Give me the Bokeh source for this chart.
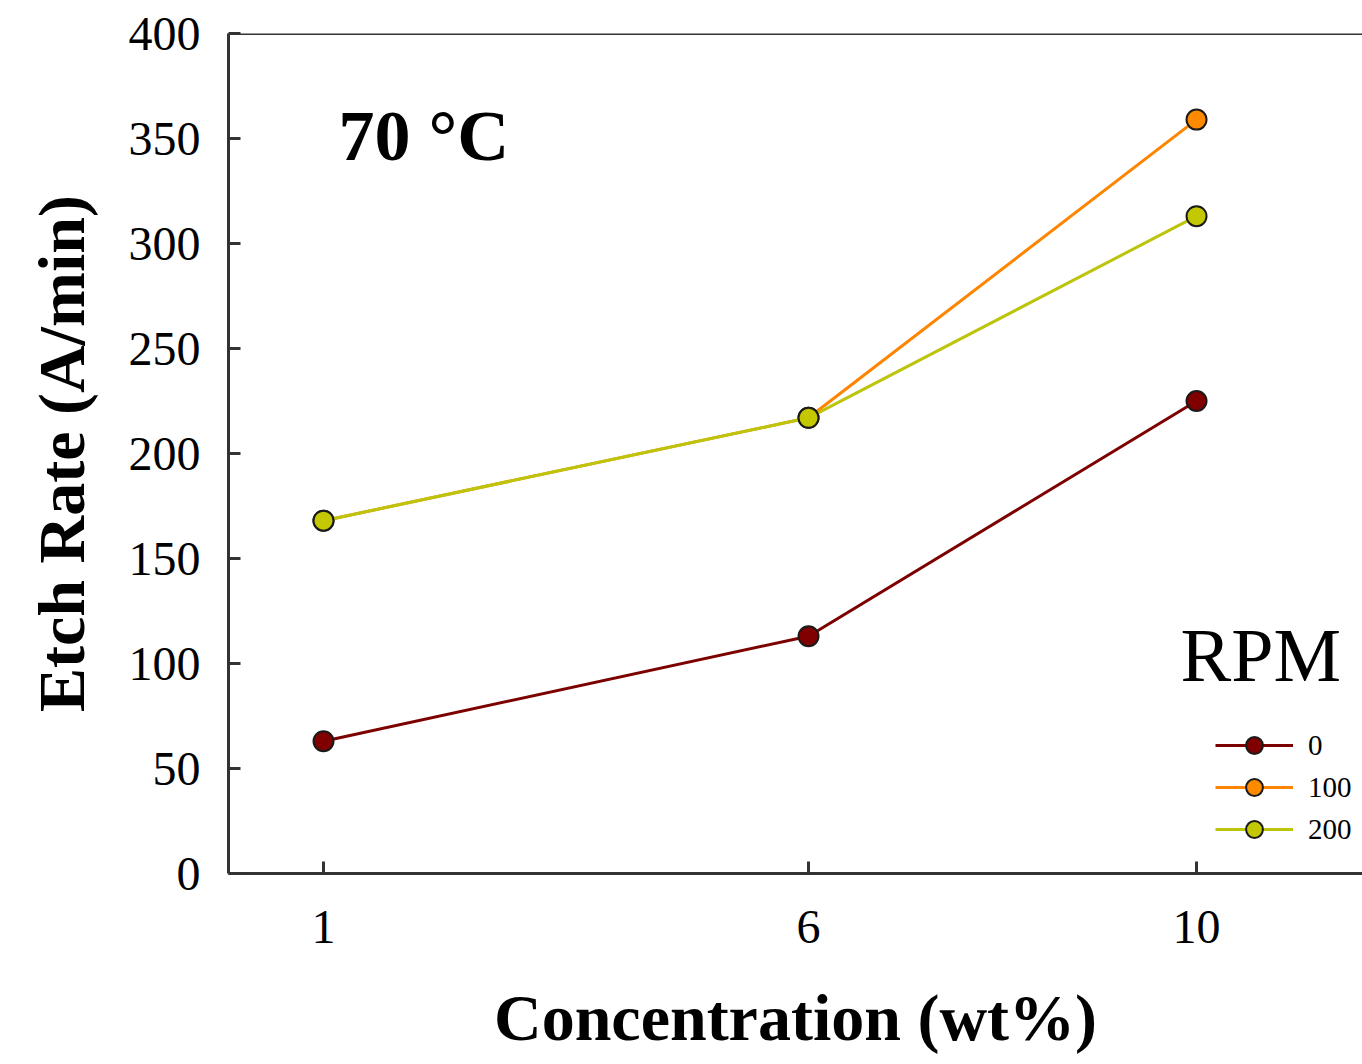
from bokeh.plotting import figure
from bokeh.models import Range1d, FixedTicker, Span, Label, Legend, LegendItem
from bokeh.embed import file_html
from bokeh.resources import INLINE

# ---- data ----
concentration = [1, 6, 10]
rpm_labels = ["0", "100", "200"]
etch_rpm0 = [63, 113, 225]
etch_rpm100 = [168, 217, 359]
etch_rpm200 = [168, 217, 313]
x_ticks = [1, 6, 10]
y_ticks = [0, 50, 100, 150, 200, 250, 300, 350, 400]

series = [etch_rpm0, etch_rpm100, etch_rpm200]
line_colors = ["#7d0000", "#ff8400", "#bcc40c"]
fill_colors = ["#800000", "#ff8a00", "#c4c800"]

SERIF = "Liberation Serif"
AXIS_COLOR = "#333333"

p = figure(frame_width=1134, frame_height=840,
           min_border_left=228, min_border_right=0,
           min_border_top=33, min_border_bottom=191,
           x_range=Range1d(0.0206, 11.711), y_range=Range1d(0, 400),
           output_backend="svg", toolbar_location=None)
p.outline_line_color = None
p.xgrid.visible = False
p.ygrid.visible = False
p.background_fill_color = "white"
p.border_fill_color = "white"

items = []
for lab, ys, lc, fc in zip(rpm_labels, series, line_colors, fill_colors):
    l = p.line(concentration, ys, line_color=lc, line_width=3)
    s = p.scatter(concentration, ys, size=20, fill_color=fc,
                  line_color="#1a1a1a", line_width=2)
    items.append(LegendItem(label=lab, renderers=[l, s]))

# top spine
p.add_layout(Span(location=400, dimension="width", line_color=AXIS_COLOR, line_width=3))

for ax in (p.xaxis, p.yaxis):
    ax.axis_line_color = AXIS_COLOR
    ax.axis_line_width = 3
    ax.major_tick_line_color = AXIS_COLOR
    ax.major_tick_line_width = 3
    ax.major_tick_in = 12
    ax.major_tick_out = 0
    ax.minor_tick_line_color = None
    ax.major_label_text_font = SERIF
    ax.major_label_text_font_size = "48px"
    ax.major_label_text_color = "black"
    ax.axis_label_text_font = SERIF
    ax.axis_label_text_font_style = "bold"
    ax.axis_label_text_font_size = "66px"
    ax.axis_label_text_color = "black"

p.xaxis.ticker = FixedTicker(ticks=x_ticks)
p.yaxis.ticker = FixedTicker(ticks=y_ticks)
p.xaxis.major_label_standoff = 37
p.yaxis.major_label_standoff = 28
p.xaxis.axis_label = "Concentration (wt%)"
p.yaxis.axis_label = "Etch Rate (A/min)"
p.xaxis.axis_label_standoff = 35
p.yaxis.axis_label_standoff = 28

p.add_layout(Label(x=1.155, y=351, text="70 °C", text_font=SERIF,
                   text_font_style="bold", text_font_size="72px",
                   text_baseline="alphabetic", text_color="black"))
p.add_layout(Label(x=9.835, y=104, text="RPM", text_font=SERIF,
                   text_font_size="76px", text_baseline="alphabetic",
                   text_color="black"))

legend = Legend(items=items, location=(987, 23), glyph_width=78, glyph_height=42,
                label_height=20, spacing=0, label_standoff=15, padding=0, margin=0,
                border_line_color=None, background_fill_alpha=0,
                label_text_font=SERIF, label_text_font_size="29px",
                label_text_color="black")
p.add_layout(legend)

open("out.html", "w").write(file_html(p, INLINE))
